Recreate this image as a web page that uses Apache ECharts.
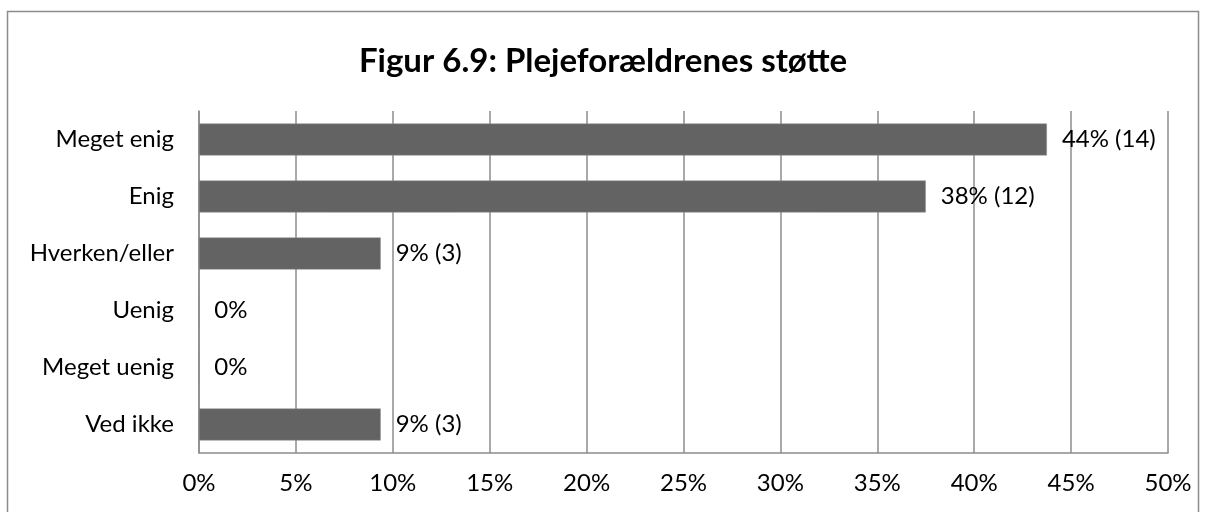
<!DOCTYPE html>
<html>
<head>
<meta charset="utf-8">
<script src="https://cdn.jsdelivr.net/npm/echarts@6/dist/echarts.min.js"></script>
<style>
  html, body { margin: 0; padding: 0; background: #fff; }
  #chart { width: 1206px; height: 512px; }
</style>
</head>
<body>
<div id="chart"></div>
<script>
// answer categories, top to bottom
const categories = ["Meget enig", "Enig", "Hverken/eller", "Uenig", "Meget uenig", "Ved ikke"];
// share of respondents (%) and counts
const shares = [43.75, 37.5, 9.375, 0, 0, 9.375];
const counts = [14, 12, 3, 0, 0, 3];
const xTicks = [0, 5, 10, 15, 20, 25, 30, 35, 40, 45, 50];

const font = "Lato, 'Open Sans', sans-serif";
let myChart = echarts.init(document.getElementById("chart"));

let option = {
  animation: false,
  backgroundColor: "#fff",
  title: {
    text: "Figur 6.9: Plejeforældrenes støtte",
    left: "center",
    top: 40,
    textStyle: { fontFamily: font, fontSize: 33, fontWeight: "bold", color: "#000" },
  },
  graphic: [
    {
      type: "rect",
      shape: { x: 7.5, y: 11.5, width: 1191, height: 520 },
      style: { fill: "none", stroke: "#8c8c8c", lineWidth: 1.5 },
      silent: true,
    },
  ],
  grid: { left: 199, right: 38, top: 111, bottom: 59, containLabel: false },
  xAxis: {
    type: "value",
    min: xTicks[0],
    max: xTicks[xTicks.length - 1],
    interval: 5,
    axisLine: { show: true, lineStyle: { color: "#8c8c8c", width: 1.5 } },
    axisTick: { show: false },
    splitLine: { show: true, lineStyle: { color: "#8c8c8c", width: 1.5 } },
    axisLabel: {
      formatter: "{value}%",
      margin: 18,
      color: "#000",
      fontFamily: font,
      fontSize: 24,
    },
  },
  yAxis: {
    type: "category",
    data: categories,
    inverse: true,
    axisLine: { show: true, lineStyle: { color: "#8c8c8c", width: 1.5 } },
    axisTick: { show: false },
    axisLabel: { margin: 25, color: "#000", fontFamily: font, fontSize: 24 },
  },
  series: [
    {
      type: "bar",
      data: shares,
      barWidth: "56%",
      itemStyle: { color: "#636363", borderColor: "#8c8c8c", borderWidth: 0.5 },
      label: {
        show: true,
        position: "right",
        distance: 15,
        color: "#000",
        fontFamily: font,
        fontSize: 24,
        formatter: function (p) {
          const pct = Math.round(p.value) + "%";
          const n = counts[p.dataIndex];
          return n > 0 ? pct + " (" + n + ")" : pct;
        },
      },
    },
  ],
};

myChart.setOption(option);
window.addEventListener("resize", function () {
  myChart.resize();
});
</script>
</body>
</html>
